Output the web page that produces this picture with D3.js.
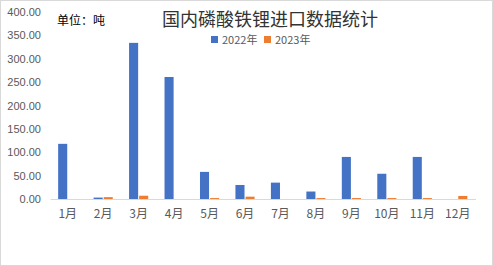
<!DOCTYPE html>
<html><head><meta charset="utf-8">
<script src="https://cdn.jsdelivr.net/npm/d3@7"></script>
<style>body{margin:0;background:#fff}svg{display:block}</style>
</head><body><svg id="c" width="493" height="266"></svg>
<script>
const months = ["1月","2月","3月","4月","5月","6月","7月","8月","9月","10月","11月","12月"];
const seriesNames = ["2022年","2023年"];
const v2022 = [118, 3, 334, 261, 58, 30, 35, 16, 90, 54, 90, 0];
const v2023 = [0, 4, 7, 0, 2, 5, 0, 2, 2, 2, 2, 6.5];
const yTicks = [0,50,100,150,200,250,300,350,400];
const colors = ["#4472C4","#ED7D31"];

const svg = d3.select("#c");
svg.append("rect").attr("x",0.5).attr("y",0.5).attr("width",492).attr("height",265)
  .attr("fill","#fff").attr("stroke","#d9d9d9");

const x = d3.scaleBand().domain(months).range([50,475.5]).paddingInner(0.46).paddingOuter(0.23);
const xs = d3.scaleBand().domain(seriesNames).range([0,x.bandwidth()]).paddingInner(0.1);
const y = d3.scaleLinear().domain([0,400]).range([199,12]);

const ya = svg.append("g").attr("transform","translate(44,0)")
  .call(d3.axisLeft(y).tickValues(yTicks).tickFormat(d3.format(".2f")).tickSize(0));
ya.select(".domain").remove();
ya.selectAll("text").attr("fill","#595959").attr("font-size","11px").attr("font-family","Liberation Sans, Arial, sans-serif");

const data = [v2022, v2023];
data.forEach((vals,si)=>{
  svg.append("g").selectAll("rect").data(vals).join("rect")
    .attr("x",(d,i)=>x(months[i])+xs(seriesNames[si]))
    .attr("width",xs.bandwidth())
    .attr("y",d=>y(d)).attr("height",d=>y(0)-y(d))
    .attr("fill",colors[si]);
});

const xa = svg.append("g").attr("transform","translate(0,199)")
  .call(d3.axisBottom(x).tickSize(0).tickPadding(10));
xa.select(".domain").attr("stroke","#d9d9d9");
xa.selectAll("text").attr("fill","#595959").attr("font-size","12px").attr("font-family","Noto Sans CJK SC, sans-serif");

svg.append("text").attr("x",270).attr("y",26).attr("text-anchor","middle")
  .attr("font-size","18px").attr("fill","#333").attr("font-family","Noto Sans CJK SC, sans-serif")
  .text("国内磷酸铁锂进口数据统计");
svg.append("text").attr("x",57).attr("y",25).attr("font-size","12px").attr("fill","#000")
  .attr("font-family","Noto Sans CJK SC, sans-serif").text("单位：吨");

const lg = svg.append("g");
const lx = [211, 264];
seriesNames.forEach((n,i)=>{
  lg.append("rect").attr("x",lx[i]).attr("y",36).attr("width",7).attr("height",7).attr("fill",colors[i]);
  lg.append("text").attr("x",lx[i]+11).attr("y",44).attr("font-size","11px").attr("fill","#595959")
    .attr("font-family","Noto Sans CJK SC, sans-serif").text(n);
});
</script></body></html>
